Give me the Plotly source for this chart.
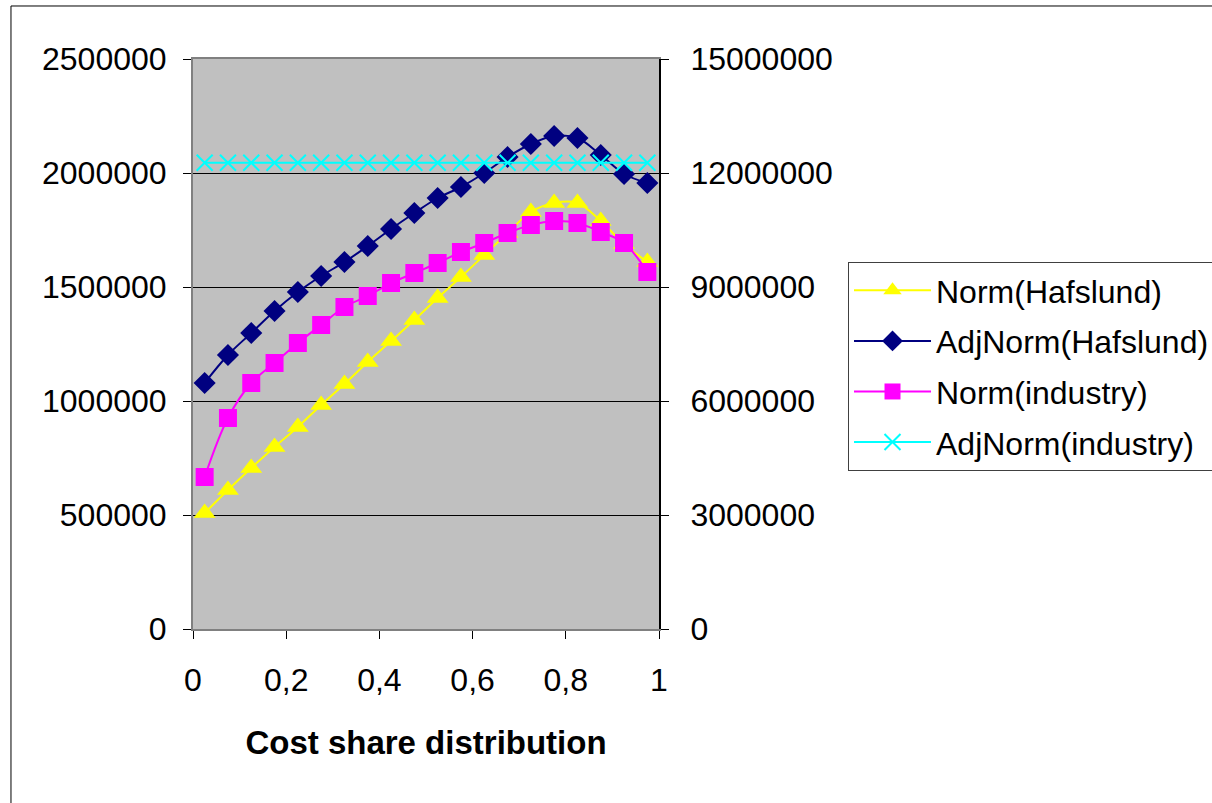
import plotly.graph_objects as go

share = [0.025, 0.075, 0.125, 0.175, 0.225, 0.275, 0.325, 0.375, 0.425, 0.475,
         0.525, 0.575, 0.625, 0.675, 0.725, 0.775, 0.825, 0.875, 0.925, 0.975]

norm_hafslund = [508772, 609649, 706140, 798246, 885965, 982456, 1074561, 1171053,
                 1263158, 1355263, 1451754, 1543860, 1640351, 1736842, 1828947,
                 1868421, 1868421, 1789474, 1688596, 1609649]
adjnorm_hafslund = [1078947, 1201754, 1298246, 1394737, 1478070, 1548246, 1609649,
                    1679825, 1754386, 1824561, 1890351, 1938596, 2000000, 2070175,
                    2127193, 2162281, 2153509, 2078947, 1995614, 1956140]
norm_industry = [4000000, 5552632, 6473684, 7000000, 7526316, 8000000, 8473684,
                 8763158, 9105263, 9368421, 9631579, 9921053, 10157895, 10421053,
                 10631579, 10736842, 10684211, 10447368, 10157895, 9394737]
adjnorm_industry = [12270000] * 20

FONT = "Liberation Sans, Arial, sans-serif"

fig = go.Figure()
fig.add_trace(go.Scatter(x=share, y=norm_hafslund, name="Norm(Hafslund)", mode="lines+markers",
                         line=dict(color="#FFFF00", width=2, shape="spline"),
                         marker=dict(symbol="triangle-up", size=19, color="#FFFF00"),
                         legendgroup="a"))
fig.add_trace(go.Scatter(x=share, y=adjnorm_hafslund, name="AdjNorm(Hafslund)", mode="lines+markers",
                         line=dict(color="#000080", width=2, shape="spline"),
                         marker=dict(symbol="diamond", size=17, color="#000080"),
                         legendgroup="b"))
fig.add_trace(go.Scatter(x=share, y=norm_industry, name="Norm(industry)", mode="lines+markers",
                         line=dict(color="#FF00FF", width=2, shape="spline"),
                         marker=dict(symbol="square", size=18, color="#FF00FF"),
                         legendgroup="c", yaxis="y2"))
fig.add_trace(go.Scatter(x=share, y=adjnorm_industry, name="AdjNorm(industry)", mode="lines+markers",
                         line=dict(color="#00FFFF", width=2, shape="spline"),
                         marker=dict(symbol="x-thin", size=16, color="#00FFFF",
                                     line=dict(color="#00FFFF", width=2)),
                         legendgroup="d", yaxis="y2"))

fig.update_layout(
    width=1212, height=803,
    margin=dict(l=193, r=553, t=59, b=174, autoexpand=False),
    paper_bgcolor="white", plot_bgcolor="#C0C0C0",
    separators=", ",
    font=dict(family=FONT, size=32, color="black"),
    xaxis=dict(range=[0, 1], dtick=0.2, tick0=0, ticks="outside", ticklen=8, tickcolor="black",
               showgrid=False, zeroline=False, showline=True, linecolor="#808080", linewidth=2,
               mirror=True, ticklabelstandoff=14,
               title=dict(text="<b>Cost share distribution</b>", standoff=33,
                          font=dict(family=FONT, size=33))),
    yaxis=dict(range=[0, 2500000], dtick=500000, tickformat="d", ticks="outside", ticklen=8,
               tickcolor="black", showgrid=True, gridcolor="black", gridwidth=1, zeroline=False,
               showline=True, linecolor="#808080", linewidth=2, ticklabelstandoff=10),
    yaxis2=dict(range=[0, 15000000], dtick=3000000, tickformat="d", overlaying="y", side="right",
                ticks="outside", ticklen=8, tickcolor="black", showgrid=False, zeroline=False,
                showline=True, linecolor="black", linewidth=2, ticklabelstandoff=15),
    legend=dict(x=1.4056, y=0.6439, xanchor="left", yanchor="top", bgcolor="white",
                bordercolor="#404040", borderwidth=1, tracegroupgap=6, itemwidth=77,
                font=dict(family=FONT, size=32)),
    showlegend=True,
    shapes=[dict(type="rect", xref="paper", yref="paper", x0=-0.3906, x1=2.3, y0=-0.4, y1=1.093,
                 line=dict(color="black", width=1), layer="below")],
)

fig.write_html("out.html")
